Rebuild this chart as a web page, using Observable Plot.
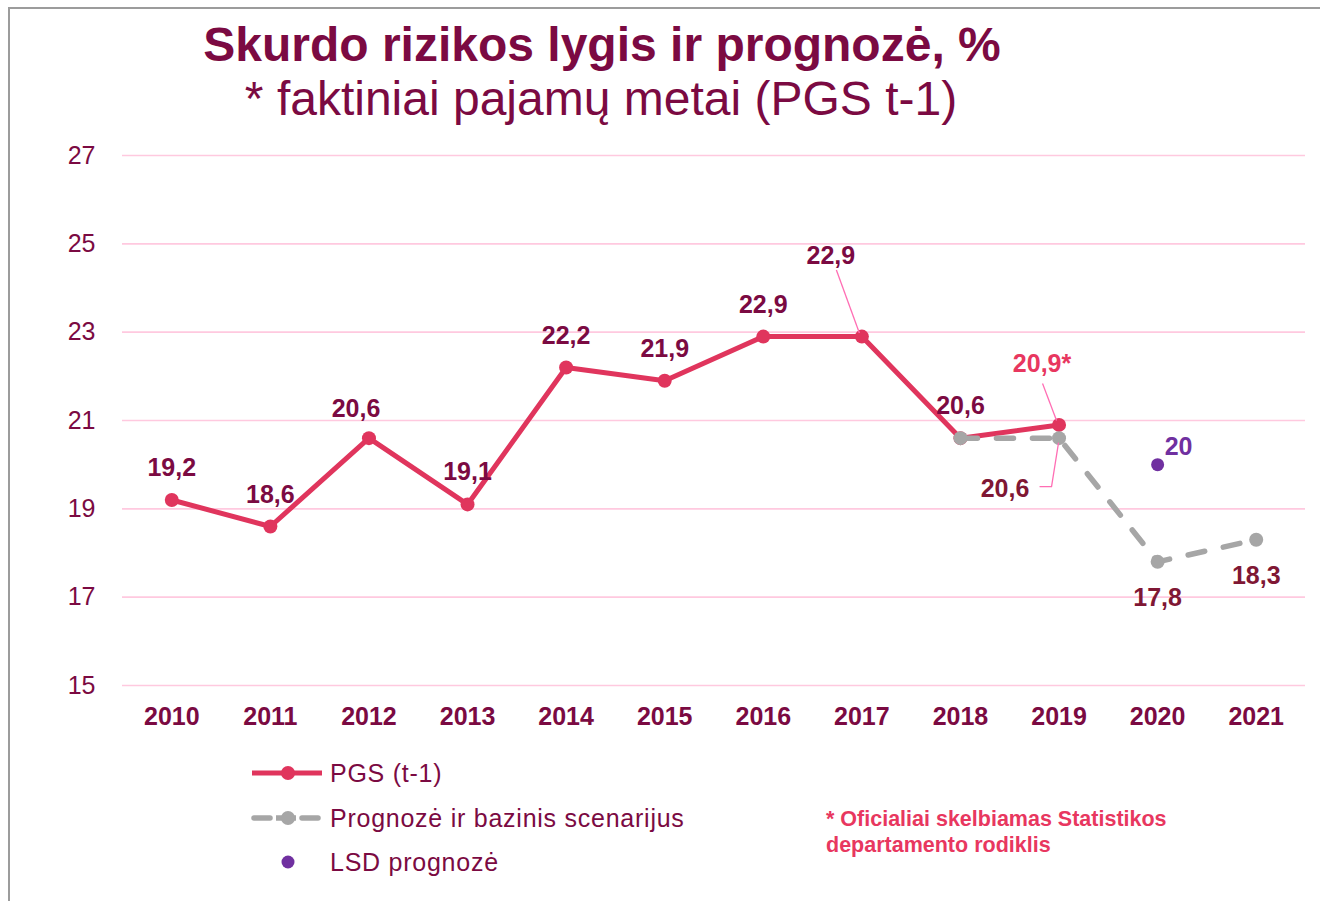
<!DOCTYPE html>
<html>
<head>
<meta charset="utf-8">
<script src="https://cdn.jsdelivr.net/npm/d3@7"></script>
<script src="https://cdn.jsdelivr.net/npm/@observablehq/plot@0.6"></script>
<style>
  html, body { margin: 0; padding: 0; background: #fff; }
  #root { position: relative; width: 1320px; height: 901px; overflow: hidden; font-family: "Liberation Sans", Arial, sans-serif; }
  .frame { position: absolute; left: 8px; top: 7px; width: 1330px; height: 910px; border-top: 2px solid #9c9c9c; border-left: 2px solid #9c9c9c; }
  .t { position: absolute; white-space: nowrap; }
  #title { left: 0; width: 1204px; text-align: center; top: 22px; font-size: 48px; line-height: 46px; font-weight: bold; color: #7b0a42; }
  #subtitle { left: 0; width: 1202px; text-align: center; top: 76px; font-size: 48px; line-height: 46px; color: #7b0a42; }
  #chart { position: absolute; left: 0; top: 130px; }
  .leg { position: absolute; left: 330px; font-size: 25px; line-height: 25px; color: #7b0a42; letter-spacing: 0.75px; }
  .sw { position: absolute; left: 248px; }
  #note { position: absolute; left: 826px; top: 806px; font-size: 21.5px; line-height: 26px; font-weight: bold; color: #e8375f; }
</style>
</head>
<body>
<div id="root">
  <div class="frame"></div>
  <div id="title" class="t">Skurdo rizikos lygis ir prognozė, %</div>
  <div id="subtitle" class="t">* faktiniai pajamų metai (PGS t-1)</div>
  <div id="chart"></div>
  <div id="legend"></div>
  <div id="note">* Oficialiai skelbiamas Statistikos<br>departamento rodiklis</div>
</div>
<script>
// ---- data ----
const years = ["2010","2011","2012","2013","2014","2015","2016","2017","2018","2019","2020","2021"];
const pgsYears = ["2010","2011","2012","2013","2014","2015","2016","2017","2018","2019"];
const pgsValues = [19.2, 18.6, 20.6, 19.1, 22.2, 21.9, 22.9, 22.9, 20.6, 20.9];
const fcYears = ["2018","2019","2020","2021"];
const fcValues = [20.6, 20.6, 17.8, 18.3];
const lsdYears = ["2020"];
const lsdValues = [20];
const yTicks = [15, 17, 19, 21, 23, 25, 27];
const seriesNames = ["PGS (t-1)", "Prognozė ir bazinis scenarijus", "LSD prognozė"];

// ---- styles ----
const maroon = "#7b0a42";
const red = "#e0355d";
const pink = "#e8375f";
const gray = "#a6a6a6";
const purple = "#7030a0";
const fcLabel = "#7f1734";
const grid = "#ffc9df";
const leader = "#ff6eb4";

const pgs = pgsYears.map((y, i) => ({year: y, value: pgsValues[i]}));
const fc = fcYears.map((y, i) => ({year: y, value: fcValues[i]}));
const lsd = lsdYears.map((y, i) => ({year: y, value: lsdValues[i]}));
const fmt = v => String(v).replace(".", ",");

const labelFont = {fontSize: 25, fontWeight: "bold"};
const pgsStd = ["2010","2011","2013","2014","2015","2016","2018"];

const chart = Plot.plot({
  width: 1320,
  height: 620,
  marginTop: 25,
  marginBottom: 65,
  marginLeft: 122,
  marginRight: 15,
  style: {fontFamily: "'Liberation Sans', Arial, sans-serif", background: "transparent", color: maroon, overflow: "visible"},
  x: {type: "point", domain: years, padding: 0.5, round: false, label: null},
  y: {domain: [15, 27], label: null},
  marks: [
    Plot.ruleY(yTicks, {stroke: grid, strokeWidth: 1.6}),
    Plot.axisY(yTicks, {tickSize: 0, tickPadding: 27, fontSize: 25, fill: maroon, label: null}),
    Plot.axisX(years, {tickSize: 0, tickPadding: 22, fontSize: 25, fontWeight: "bold", fill: maroon, label: null}),
    Plot.line(pgs, {x: "year", y: "value", stroke: red, strokeWidth: 5, strokeLinejoin: "round"}),
    Plot.dot(pgs, {x: "year", y: "value", r: 7, fill: red}),
    Plot.line(fc, {x: "year", y: "value", stroke: gray, strokeWidth: 5.5, strokeDasharray: "17,19", strokeLinecap: "round"}),
    Plot.dot(fc, {x: "year", y: "value", r: 7, fill: gray}),
    Plot.dot(lsd, {x: "year", y: "value", r: 6.5, fill: purple}),
    // labels
    Plot.text(pgs, {filter: d => pgsStd.includes(d.year), x: "year", y: "value", text: d => fmt(d.value), dy: -32, fill: maroon, ...labelFont}),
    Plot.text(pgs, {filter: d => d.year === "2012", x: "year", y: "value", text: d => fmt(d.value), dx: -13, dy: -29, fill: maroon, ...labelFont}),
    Plot.text(pgs, {filter: d => d.year === "2017", x: "year", y: "value", text: d => fmt(d.value), dx: -31, dy: -81, fill: maroon, ...labelFont}),
    Plot.text(pgs, {filter: d => d.year === "2019", x: "year", y: "value", text: d => fmt(d.value) + "*", dx: -17, dy: -61, fill: pink, ...labelFont}),
    Plot.text(fc, {filter: d => d.year === "2019", x: "year", y: "value", text: d => fmt(d.value), dx: -54, dy: 51, fill: fcLabel, ...labelFont}),
    Plot.text(fc, {filter: d => d.year === "2020" || d.year === "2021", x: "year", y: "value", text: d => fmt(d.value), dy: 36, fill: fcLabel, ...labelFont}),
    Plot.text(lsd, {x: "year", y: "value", text: d => fmt(d.value), dx: 21, dy: -18, fill: purple, ...labelFont})
  ]
});
document.getElementById("chart").appendChild(chart);

// leader lines, anchored to data points through the chart's scales
const sx = chart.scale("x"), sy = chart.scale("y");
const svg = d3.select(chart);
const leaders = [
  {year: "2017", value: pgsValues[7], pts: [[-25, -66], [-2, -3]]},
  {year: "2019", value: pgsValues[9], pts: [[-16, -41], [-2, -4]]},
  {year: "2019", value: fcValues[1], pts: [[-19, 49], [-7, 49], [0, 5]]}
];
for (const l of leaders) {
  const px = sx.apply(l.year), py = sy.apply(l.value);
  svg.append("polyline")
    .attr("points", l.pts.map(([dx, dy]) => `${px + dx},${py + dy}`).join(" "))
    .attr("fill", "none").attr("stroke", leader).attr("stroke-width", 1.3);
}

// legend
const legend = document.getElementById("legend");
const rows = [773, 818, 862];
const swatches = [
  `<line x1="4" y1="12" x2="74" y2="12" stroke="${red}" stroke-width="5"/><circle cx="40" cy="12" r="7" fill="${red}"/>`,
  `<line x1="6" y1="12" x2="22" y2="12" stroke="${gray}" stroke-width="5.5" stroke-linecap="round"/><line x1="54" y1="12" x2="70" y2="12" stroke="${gray}" stroke-width="5.5" stroke-linecap="round"/><line x1="22" y1="12" x2="54" y2="12" stroke="${gray}" stroke-width="5.5" stroke-dasharray="0,6,20,6"/><circle cx="40" cy="12" r="7" fill="${gray}"/>`,
  `<circle cx="40" cy="12" r="6.5" fill="${purple}"/>`
];
seriesNames.forEach((name, i) => {
  const sw = document.createElement("div");
  sw.className = "sw";
  sw.style.top = (rows[i] - 12) + "px";
  sw.innerHTML = `<svg width="80" height="24">${swatches[i]}</svg>`;
  legend.appendChild(sw);
  const t = document.createElement("div");
  t.className = "leg t";
  t.style.top = (rows[i] - 12.5) + "px";
  t.textContent = name;
  legend.appendChild(t);
});
</script>
</body>
</html>
